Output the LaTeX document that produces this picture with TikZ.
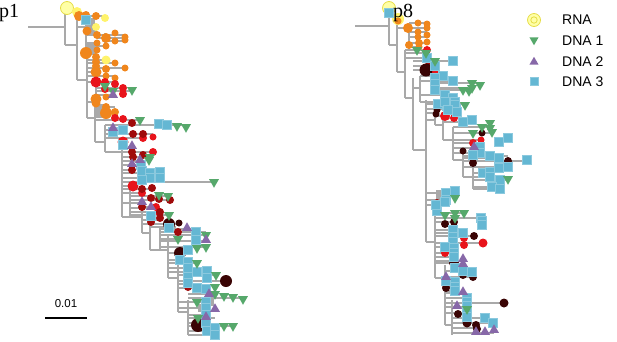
\documentclass[tikz,border=0pt]{standalone}
\usepackage{fontspec}
\setmainfont{Liberation Sans}
\newfontfamily\labelfont{Liberation Serif}
\usetikzlibrary{shapes.geometric}
\definecolor{branchgray}{HTML}{A9A9A9}
\definecolor{rnayellow}{HTML}{FFF36B}
\definecolor{rnapale}{HTML}{FFFFA6}
\definecolor{rnaring}{HTML}{E6DD48}
\definecolor{orangeish}{HTML}{F0861C}
\definecolor{redish}{HTML}{E8141B}
\definecolor{darkredish}{HTML}{A00A0A}
\definecolor{blackred}{HTML}{3A0404}
\definecolor{dnablue}{HTML}{64B7D3}
\definecolor{dnagreen}{HTML}{56A86B}
\definecolor{dnapurple}{HTML}{8768A8}
\tikzstyle{branch}=[draw=branchgray, line width=1.3pt]
\tikzstyle{dna one}=[regular polygon, regular polygon sides=3, shape border rotate=180,
    fill=dnagreen, minimum size=11.5pt, inner sep=0pt]
\tikzstyle{dna two}=[regular polygon, regular polygon sides=3,
    fill=dnapurple, minimum size=11.5pt, inner sep=0pt]
\tikzstyle{dna three}=[rectangle, fill=dnablue, draw=dnablue!75!white, line width=.4pt,
    minimum size=9pt, inner sep=0pt]
\tikzstyle{rna}=[circle, fill=rnapale, draw=rnaring, line width=.8pt, minimum size=13pt, inner sep=0pt]
\tikzstyle{legend text}=[anchor=west, inner sep=0pt, font=\fontsize{14}{16}\selectfont]
\tikzstyle{panel label}=[anchor=base west, inner sep=0pt, font=\labelfont\fontsize{20}{22}\selectfont]

\begin{document}
\begin{tikzpicture}[x=1pt, y=-1pt]
  \useasboundingbox (0,0) rectangle (617,341);

  % branches, vertical then horizontal
  \foreach \x/\ya/\yb in {65/8/45, 77/12/80, 87/55/118, 95/98/142, 105/125/152, 122/140/217,
      142/200/233, 150/222/250, 168/235/278, 178/250/312, 188/300/335,
      86/15/57, 96/82/95, 105/33/46, 130/186/216, 160/227/250,
      389/8/45, 397/20/72, 405/50/98, 413/78/150, 426/100/242, 435/200/278, 445/265/325,
      452/300/335, 409/23/50, 420/76/102, 432/83/90, 435/104/125, 443/116/140, 453/127/160,
      463/151/177, 473/163/189}
    \draw[branch] (\x,\ya) -- (\x,\yb);
  \foreach \xa/\xb/\y in {28/65/27, 65/77/45, 77/87/80, 87/95/118, 95/105/142, 105/122/152,
      122/142/217, 142/150/233, 150/168/250, 168/178/278, 178/188/312,
      77/105/16, 77/96/27, 86/97/31, 86/125/35, 97/125/38, 105/125/41, 86/106/46, 86/97/50,
      87/106/60, 87/115/63, 87/125/68, 87/96/72, 87/115/76, 87/115/82, 96/123/88, 96/132/91,
      96/113/95, 87/97/102, 95/115/107, 95/115/112, 95/140/120, 105/186/125, 105/123/130,
      105/153/134, 105/143/138, 122/132/147, 122/153/152, 122/150/157, 122/141/161,
      122/141/165, 122/132/170, 122/160/173, 122/160/178, 122/214/182, 122/133/186,
      122/152/189, 122/142/193, 130/168/196, 130/170/200, 122/142/203, 130/156/208,
      130/160/212, 130/169/215, 142/151/207, 142/159/212, 142/160/220, 142/179/224,
      150/169/227, 160/196/229, 160/206/232, 160/206/235, 160/178/239, 160/206/241,
      160/206/247, 168/180/253, 168/188/260, 168/197/263, 168/188/268, 168/207/272,
      178/216/275, 178/226/281, 178/188/284, 178/206/288, 188/215/294, 188/243/298,
      178/206/302, 178/206/308, 188/206/315, 188/215/318, 188/206/323, 188/233/326,
      188/215/331, 188/215/335,
      355/389/26, 389/397/45, 397/405/72, 405/413/98, 413/426/150, 426/435/242,
      435/445/278, 445/452/325, 426/435/120, 435/443/125, 443/453/140, 453/463/160,
      463/473/177, 397/398/20, 397/409/28, 409/427/23, 409/427/28, 409/427/32, 409/427/37,
      409/427/43, 409/419/47, 405/427/50, 405/426/53, 405/427/58, 413/453/61, 413/435/66,
      413/435/70, 413/420/88, 420/443/76, 420/453/81, 432/480/83, 432/472/88, 432/469/90,
      420/453/95, 420/455/102, 426/465/104, 426/457/109, 426/436/113, 435/445/116,
      443/454/118, 443/472/122, 453/490/127, 453/492/133, 453/481/140, 453/473/143,
      453/480/148, 453/480/153, 463/508/156, 463/499/158, 463/527/161, 463/508/167,
      473/490/173, 473/490/177, 473/508/180, 473/492/187, 473/500/189, 426/455/193,
      426/446/200, 426/437/205, 435/464/213, 435/481/218, 435/454/222, 435/463/230,
      435/463/233, 435/474/236, 435/483/243, 435/454/247, 435/454/253, 435/454/257,
      435/463/261, 435/454/263, 445/472/271, 445/473/277, 445/455/282, 445/455/287,
      445/455/291, 445/463/293, 445/467/298, 445/504/303, 445/467/307, 445/467/313,
      452/485/318, 452/493/323, 452/477/328, 452/494/333}
    \draw[branch] (\xa,\y) -- (\xb,\y);

  % overlapping branches
  \foreach \xa/\ya/\xb/\yb in {86/18/95/34, 86/42/96/55, 96/104/105/118, 206/299/214/306,
      198/304/206/312, 436/190/446/200, 168/226/176/232}
    \fill[branchgray] (\xa,\ya) rectangle (\xb,\yb);

  % RNA and coloured circles
  \node[rna] (rootone) at (67,8) {};
  \node[rna] (rooteight) at (389,8) {};
  \foreach \x/\y/\r in {77/12/5, 105/18/4, 96/27/4, 106/60/4.5, 398/19/6}
    \fill[rnayellow] (\x,\y) circle[radius=\r];
  \foreach \x/\y/\r in {79/16/5, 86/15/4, 96/16/4, 87/31/4.5, 97/35/4, 115/33/3.5, 106/38/5,
      115/41/3.5, 125/37/3.5, 125/40/3.5, 97/43/3.5, 106/46/3.5, 97/50/3.5, 86/53/6, 96/57/4,
      96/62/4, 115/63/3.5, 96/66/4, 106/69/4, 125/68/3.5, 96/72/5.5, 106/76/3.5, 115/78/3.5,
      96/99/5.5, 96/103/4.5, 106/97/3.5, 106/107/4, 106/113/6, 115/112/4,
      398/21/3.5, 408/28/5, 418/23/3.5, 427/24/3.5, 427/28/3.5, 418/32/3.5, 427/35/3.5,
      418/37/3.5, 409/45/4, 419/43/4, 427/42/3.5, 419/47/3.5}
    \fill[orangeish] (\x,\y) circle[radius=\r];
  \foreach \x/\y/\r in {96/82/5.5, 105/82/4, 115/84/4, 105/89/4, 123/88/4, 123/94/4,
      115/118/4, 123/119/4, 153/137/3.5, 143/138/4, 123/142/5.5, 153/152/4, 133/186/5.5,
      142/193/4, 156/207/4, 159/212/4,
      427/50/4, 435/70/4, 445/116/5, 454/118/4, 481/140/3.5, 473/143/4, 464/238/4,
      464/245/4, 483/243/4.5, 445/253/4}
    \fill[redish] (\x,\y) circle[radius=\r];
  \foreach \x/\y/\r in {132/123/4, 133/134/4, 143/134/4, 132/152/4, 143/155/4, 133/157/4,
      132/170/4, 142/189/4, 152/188/4, 159/199/4, 170/200/4, 151/198/4, 142/207/4,
      160/212/4, 160/218/4, 151/222/4, 178/232/4, 188/273/4, 188/287/4,
      429/65/4, 437/203/4, 446/285/4}
    \fill[darkredish] (\x,\y) circle[radius=\r];
  \foreach \x/\y/\r in {169/224/6, 179/223/3.5, 180/253/6, 226/281/6, 198/325/7,
      426/70/6.5, 437/110/3.5, 436/114/3.5, 482/133/3.5, 463/151/3.5, 508/161/4, 473/163/4,
      500/182/3.5, 445/224/4, 454/222/4, 474/236/4, 454/263/5, 463/275/4, 473/277/4,
      446/288/4, 504/303/4.5, 458/314/4, 467/323/4.5, 476/325/4, 477/329/4}
    \fill[blackred] (\x,\y) circle[radius=\r];

  % DNA 3
  \foreach \x/\y in {86/20, 159/124, 167/125, 113/132, 123/130, 123/145, 141/165, 142/171,
      150/173, 160/172, 160/178, 150/178, 142/180, 151/216, 169/228, 196/232, 196/240,
      188/250, 180/260, 188/262, 188/268, 197/272, 207/271, 207/278, 188/277, 188/283,
      197/288, 206/289, 206/302, 206/308, 206/315, 206/323, 207/331, 215/328, 215/335,
      389/13, 427/58, 453/61, 435/66, 443/76, 435/78, 453/81, 435/84, 435/90, 445/95,
      453/98, 455/102, 447/106, 438/104, 456/109, 445/102, 455/105, 448/110, 457/112,
      463/122, 472/120, 499/142, 508/138, 480/147, 480/153, 473/155, 490/156, 499/158,
      508/167, 499/168, 527/160, 483/173, 490/172, 490/177, 500/180, 492/187, 500/189,
      446/193, 455/191, 446/200, 437/207, 437/211, 481/218, 436/205, 445/202, 482/221,
      482/225, 453/230, 463/233, 453/237, 453/242, 445/247, 454/248, 454/253, 454/257,
      455/268, 463/271, 472/272, 446/281, 455/282, 455/287, 455/291, 467/298, 467/302,
      467/306, 467/313, 467/317, 485/318, 493/323}
    \node[dna three] at (\x,\y) {};
  % DNA 1
  \foreach \x/\y in {105/86, 113/91, 132/90, 140/120, 177/126, 186/127, 149/160, 150/157,
      214/182, 159/195, 168/196, 169/215, 206/235, 178/239, 206/247, 197/248, 197/263,
      216/275, 215/287, 215/294, 224/296, 233/297, 243/299, 197/302, 198/318, 224/326,
      233/326,
      417/50, 426/53, 435/61, 472/83, 480/85, 472/88, 463/90, 469/91, 465/105, 473/133,
      482/127, 490/123, 490/128, 492/132, 508/179, 455/198, 445/215, 455/213, 464/213,
      455/218, 467/309}
    \node[dna one] at (\x,\y) {};
  % DNA 2
  \foreach \x/\y in {113/95, 113/128, 132/146, 140/160, 132/164, 142/202, 151/207,
      187/228, 206/240, 209/294, 215/309, 206/317,
      474/147, 463/259, 463/264, 446/277, 463/292, 457/306, 476/332, 485/332, 494/330}
    \node[dna two] at (\x,\y) {};

  % panel labels and scale
  \node[panel label] (pone) at (-1,17) {p1};
  \node[panel label] (peight) at (393,17) {p8};
  \coordinate (scalea) at (45,318);
  \coordinate (scaleb) at (87,318);
  \draw[line width=2.6pt] (scalea) -- (scaleb);
  \node[anchor=base, inner sep=0pt, font=\fontsize{11.5}{13}\selectfont] (scaletext)
    at (66,307) {0.01};

  % legend
  \node[rna] (legrna) at (534,20) {};
  \draw[rnaring, line width=.8pt] (legrna.center) circle[radius=3.2];
  \node[dna one, minimum size=10.5pt] (legone) at (534,40) {};
  \node[dna two, minimum size=10.5pt] (legtwo) at (534,62) {};
  \node[dna three, minimum size=8pt] (legthree) at (534,81) {};
  \node[legend text] at (562,20) {RNA};
  \node[legend text] at (562,41) {DNA 1};
  \node[legend text] at (562,62) {DNA 2};
  \node[legend text] at (562,82) {DNA 3};
\end{tikzpicture}
\end{document}
